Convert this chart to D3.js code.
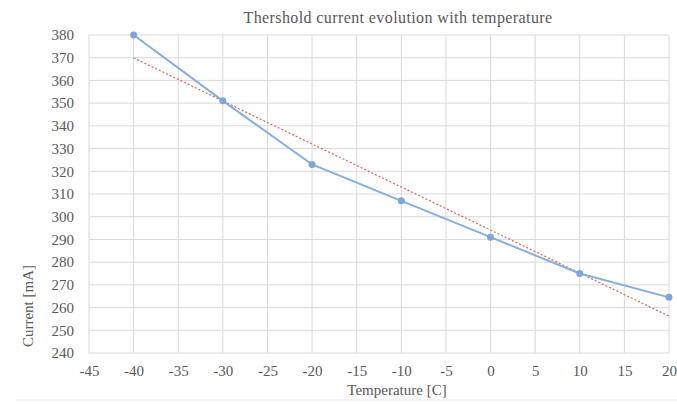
<!DOCTYPE html>
<html>
<head>
<meta charset="utf-8">
<script src="https://cdn.jsdelivr.net/npm/d3@7"></script>
<style>
body { margin: 0; background: #fff; }
svg text { font-family: "Liberation Serif", "DejaVu Serif", serif; fill: #595959; }
</style>
</head>
<body>
<svg id="chart" width="677" height="404"></svg>
<script>
var temperatures = [-40, -30, -20, -10, 0, 10, 20];
var currents = [380, 351, 323, 307, 291, 275, 264.5];
var xTicks = [-45, -40, -35, -30, -25, -20, -15, -10, -5, 0, 5, 10, 15, 20];
var yTicks = [240, 250, 260, 270, 280, 290, 300, 310, 320, 330, 340, 350, 360, 370, 380];

var svg = d3.select("#chart");
var PLOT_LEFT = 89, PLOT_RIGHT = 669, PLOT_TOP = 35, PLOT_BOTTOM = 353;
var SERIF = "'Liberation Serif', 'DejaVu Serif', serif";

var x = d3.scaleLinear().domain([-45, 20]).range([PLOT_LEFT, PLOT_RIGHT]);
var y = d3.scaleLinear().domain([240, 380]).range([PLOT_BOTTOM, PLOT_TOP]);

// grid
var g_grid = svg.append("g");
g_grid.selectAll("line.h").data(yTicks).enter().append("line")
    .attr("x1", PLOT_LEFT).attr("x2", PLOT_RIGHT)
    .attr("y1", function(d) { return y(d); })
    .attr("y2", function(d) { return y(d); })
    .style("stroke", "#d9d9d9").style("stroke-width", 1);
g_grid.selectAll("line.v").data(xTicks).enter().append("line")
    .attr("y1", PLOT_TOP).attr("y2", PLOT_BOTTOM)
    .attr("x1", function(d) { return x(d); })
    .attr("x2", function(d) { return x(d); })
    .style("stroke", "#d9d9d9").style("stroke-width", 1);

// axes labels
var yAxis = svg.append("g").attr("transform", "translate(" + PLOT_LEFT + ",0)")
    .call(d3.axisLeft(y).tickValues(yTicks).tickSize(0).tickPadding(15));
var xAxis = svg.append("g").attr("transform", "translate(0," + PLOT_BOTTOM + ")")
    .call(d3.axisBottom(x).tickValues(xTicks).tickSize(0).tickPadding(12)
        .tickFormat(function(d) { return d; }));
[yAxis, xAxis].forEach(function(a) {
    a.attr("font-family", null).attr("font-size", null);
    a.select(".domain").remove();
    a.selectAll("text").style("font-size", "15px").style("font-family", SERIF).style("fill", "#595959");
});

// trend line (least squares)
var mx = d3.mean(temperatures), my = d3.mean(currents);
var sxy = d3.sum(temperatures, function(t, i) { return (t - mx) * (currents[i] - my); });
var sxx = d3.sum(temperatures, function(t) { return (t - mx) * (t - mx); });
var slope = sxy / sxx, icpt = my - slope * mx;
var ends = [temperatures[0], temperatures[temperatures.length - 1]];
svg.append("line")
    .attr("x1", x(ends[0])).attr("y1", y(icpt + slope * ends[0]))
    .attr("x2", x(ends[1])).attr("y2", y(icpt + slope * ends[1]))
    .style("stroke", "#e0625a").style("stroke-width", 1.2)
    .style("stroke-dasharray", "2,2");

// data line
var pts = temperatures.map(function(t, i) { return [t, currents[i]]; });
svg.append("path")
    .datum(pts)
    .attr("d", d3.line().x(function(d) { return x(d[0]); }).y(function(d) { return y(d[1]); }))
    .style("fill", "none").style("stroke", "#86aee0").style("stroke-width", 2);
svg.append("g").selectAll("circle").data(pts).enter().append("circle")
    .attr("cx", function(d) { return x(d[0]); })
    .attr("cy", function(d) { return y(d[1]); })
    .attr("r", 3.5)
    .style("fill", "#7ea6dc");

// titles
svg.append("text").attr("x", 398).attr("y", 23).attr("text-anchor", "middle")
    .style("font-family", SERIF).style("font-size", "16px").style("letter-spacing", "0.4px")
    .text("Thershold current evolution with temperature");
svg.append("text").attr("x", 397).attr("y", 395).attr("text-anchor", "middle")
    .style("font-family", SERIF).style("font-size", "15px").text("Temperature [C]");
svg.append("text").attr("transform", "translate(33,306) rotate(-90)").attr("text-anchor", "middle")
    .style("font-family", SERIF).style("font-size", "15px").text("Current [mA]");

svg.append("line").attr("x1", 15).attr("x2", 677).attr("y1", 400).attr("y2", 400)
    .style("stroke", "#e6e6e6");
</script>
</body>
</html>
